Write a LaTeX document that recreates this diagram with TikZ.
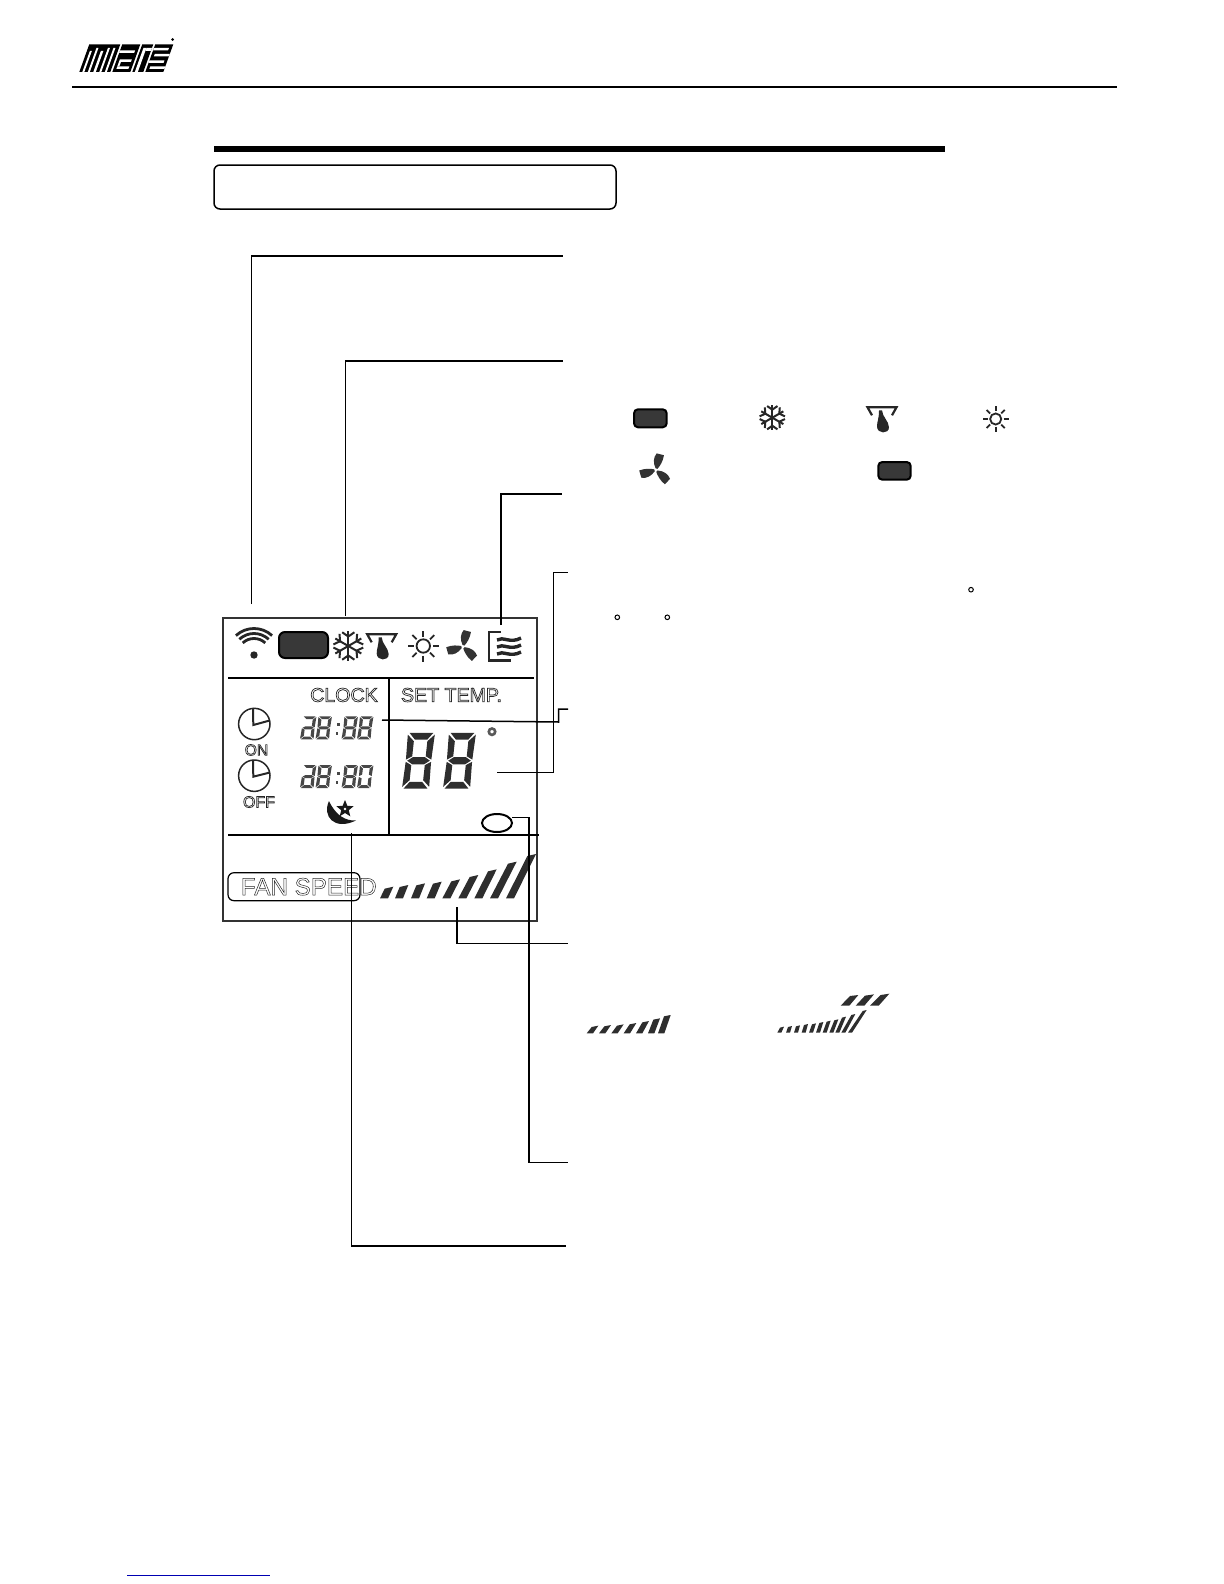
\documentclass[tikz,border=0pt]{standalone}
\usepackage{fontspec}
\usetikzlibrary{calc}
\setmainfont{Liberation Sans}
\newcommand\outl[2][0.35]{\special{pdf:code q 1 Tr #1 w}#2\special{pdf:code Q}}
\tikzset{
  leader/.style={draw=black,line width=.75pt},
  lcdline/.style={draw=black,line width=1pt},
  lcdtext/.style={text=black!85,inner sep=0pt,anchor=center},
  modebox/.style={draw=black,fill=black!78,line width=1pt,rounded corners=2pt},
  icon/.style={draw=black!85,line width=.75pt},
}
\newcommand\segdigit[6]{\begin{scope}[shift={(#1,#2)},x={(#3*.5pt,0pt)},y={(#5*.25pt,#4*.25pt)}]#6\end{scope}}
\newcommand\sA{\fill (.06,2)--(.94,2)--(.74,1.76)--(.28,1.76)--cycle;}
\newcommand\sD{\fill (.06,0)--(.94,0)--(.72,.24)--(.26,.24)--cycle;}
\newcommand\sG{\fill (.08,1)--(.28,1.13)--(.72,1.13)--(.92,1)--(.72,.87)--(.28,.87)--cycle;}
\newcommand\sF{\fill (0,1.94)--(.25,1.70)--(.25,1.16)--(.03,1.04)--cycle;}
\newcommand\sB{\fill (1,1.94)--(.75,1.70)--(.75,1.16)--(.97,1.04)--cycle;}
\newcommand\sE{\fill (.03,.96)--(.25,.84)--(.25,.30)--(0,.06)--cycle;}
\newcommand\sC{\fill (.97,.96)--(.75,.84)--(.75,.30)--(1,.06)--cycle;}
\newcommand\snowicon[3]{\begin{scope}[shift={(#1,#2)},scale=#3]
  \foreach \a in {90,30,-30,-90,-150,150}{
    \draw[icon,line width=1pt] (0,0)--(\a:15);
    \draw[icon,line width=1pt] (\a+24:15)--(\a:9.5)--(\a-24:15);
  }\end{scope}}
\newcommand\dropicon[3]{\begin{scope}[shift={(#1,#2)},scale=#3]
  \draw[icon,line width=1.1pt] (-10,8)--(-14.5,0)--(14.5,0)--(10,8);
  \fill[black!85] (-3,3) .. controls (-3,12) and (-5,14) .. (-5,19) .. controls (-5,27) and (7,27) .. (7,20) .. controls (7,14) and (0,9) .. (0,3)--cycle;
  \end{scope}}
\newcommand\sunicon[3]{\begin{scope}[shift={(#1,#2)},scale=#3]
  \draw[icon,line width=.9pt] (0,0) circle (6.7);
  \foreach \a in {0,45,...,315}{\draw[icon,line width=.9pt] (\a:9.5)--(\a:15.5);}
  \end{scope}}
\newcommand\fanicon[2]{\begin{scope}[shift={(#1,#2)}]
  \foreach \a in {72,192,312}{
    \fill[black!80,rotate=\a] (1.5,-1) .. controls (6,-5) and (11,-6.5) .. (16,-4.5) -- (16.5,3) .. controls (10,4) and (5,2.5) .. (1.5,1) -- cycle;
  }\end{scope}}
\begin{document}
\begin{tikzpicture}[x=.5pt,y=-.5pt]
\useasboundingbox (0,0) rectangle (1224,1584);
% header
\draw[line width=.6pt] (72,87)--(1117,87);
\fill[black] (214,145.5) rectangle (945,151.5);
\draw[line width=.75pt,rounded corners=3pt] (214,165) rectangle (616,209);
\draw[line width=.5pt,blue!70!black] (127,1575)--(270,1575);
% logo
\begin{scope}[shift={(79.3,72)},yscale=-1,xslant=-.36]
  \fill (0,0) rectangle (31,27.7);
  \fill (33,0) rectangle (51,27.7);
  \fill (53,0) rectangle (64,27.7);
  \fill (66,0) rectangle (84,27.7);
  % m
  \fill[white] (3,0) rectangle (5,21);
  \fill[white] (8.5,0) rectangle (10.5,24);
  \fill[white] (14,0) rectangle (16.5,21);
  \fill[white] (20,0) rectangle (22,24);
  \fill[white] (25.5,0) rectangle (27.5,24);
  % a
  \fill[white] (36,3) rectangle (48,5.5);
  \fill[white] (36,10) rectangle (48,12.5);
  \fill[white] (33,19) rectangle (48,21.5);
  \fill[white] (36,5.5) rectangle (38,10);
  % r
  \fill[white] (55.5,0) rectangle (58.5,24);
  \fill[white] (58.5,21) rectangle (64,24);
  % s
  \fill[white] (69,3) rectangle (84,5.5);
  \fill[white] (66,9) rectangle (81,11.5);
  \fill[white] (69,15.5) rectangle (84,18);
  \fill[white] (66,21.5) rectangle (81,24);
\end{scope}
\fill (172.7,39.5) circle (1.5);
% panel
\draw[draw=black!80,line width=1pt] (222.7,618) rectangle (537,920.7);
\draw[lcdline] (228,678)--(534,678);
\draw[lcdline] (389,678)--(389,834.7);
\draw[lcdline] (228,834.7)--(539,834.7);
% wifi
\fill[black!85] (254,655) circle (3.7);
\foreach \r in {26.5,21.5,16.5}{\draw[black!85,line width=1.4pt] ($(254,655)+(-133:\r)$) arc[start angle=-133,end angle=-47,radius=\r];}
\draw[modebox,rounded corners=3pt] (279,632) rectangle (328,658);
\snowicon{348.3}{646}{1}
\dropicon{381.7}{634.3}{1}
\sunicon{423.3}{646}{1}
\fanicon{463}{646.7}
% swing icon
\draw[black!85,line width=1.1pt] (501,632)--(489,632)--(489,660.5)--(511,660.5);
\foreach \y in {640,647,654}{\draw[black!85,line width=1.7pt] (497,\y) .. controls (503,\y-4) and (510,\y+4) .. (521,\y-2);}
% text
\node[lcdtext,font=\fontsize{9.8}{10}\selectfont] (clock) at (344,695) {\outl{CLOCK}};
\node[lcdtext,font=\fontsize{9.8}{10}\selectfont] (settemp) at (451.5,695) {\outl{SET TEMP.}};
\node[lcdtext,font=\fontsize{7.8}{8}\selectfont] (on) at (256.5,750) {\outl{ON}};
\node[lcdtext,font=\fontsize{8}{8}\selectfont] (off) at (259,802) {\outl{OFF}};
% clocks
\draw[icon] (254.3,724) circle (15.7);
\draw[icon,line width=1pt] (253,708)--(253.3,725)--(269,720.7);
\draw[icon] (254.3,775.7) circle (15.7);
\draw[icon,line width=1pt] (253,760)--(253.3,776.7)--(269,772.7);
% clock digits
\begin{scope}[black!72]
\foreach \yy in {739.3,788}{
  \segdigit{300}{\yy}{13.5}{23}{3}{\sA\sB\sG\sE\sC\sD}
  \segdigit{315.5}{\yy}{13.5}{23}{3}{\sA\sB\sF\sG\sE\sC\sD}
  \fill (337,\yy-16) rectangle ++(2.6,2.6);
  \fill (335.5,\yy-7) rectangle ++(2.6,2.6);
  \segdigit{341.5}{\yy}{13.5}{23}{3}{\sA\sB\sF\sG\sE\sC\sD}
}
\segdigit{357}{739.3}{13.5}{23}{3}{\sA\sB\sF\sG\sE\sC\sD}
\segdigit{357}{788}{13.5}{23}{3}{\sA\sB\sF\sE\sC\sD}
\end{scope}
% big digits
\begin{scope}[black!82]
\segdigit{402}{788.5}{27}{55.6}{6}{\sA\sB\sF\sG\sE\sC\sD}
\segdigit{443}{788.5}{27}{55.6}{6}{\sA\sB\sF\sG\sE\sC\sD}
\end{scope}
\draw[draw=black!65,line width=1.3pt] (492,731.7) circle (3.2);
% moon and star
\fill[black!90] (329,801) .. controls (322,816) and (334,831) .. (356,820.5) .. controls (346,821) and (336,816) .. cycle;
\fill[black!90] ($(345,809)+(-90:9)$)
  -- ($(345,809)+(-54:4)$) -- ($(345,809)+(-18:9)$) -- ($(345,809)+(18:4)$) -- ($(345,809)+(54:9)$)
  -- ($(345,809)+(90:4)$) -- ($(345,809)+(126:9)$) -- ($(345,809)+(162:4)$) -- ($(345,809)+(198:9)$)
  -- ($(345,809)+(234:4)$) -- cycle;
\fill[white] (345,809) circle (1.3);
% ellipse
\draw[draw=black,line width=1pt] (497,823) ellipse[x radius=15,y radius=9];
% fan speed
\draw[draw=black,line width=.6pt,rounded corners=3pt] (228,872.7) rectangle (360,900.7);
\node[lcdtext,font=\fontsize{12.1}{12}\selectfont,anchor=west] (fanspeed) at (240.5,886.7) {\outl[0.25]{FAN SPEED}};
% fan bars
\begin{scope}[shift={(225,830)},x=.16667pt,y=-.16667pt,black!82]
\foreach \b/\t/\y in {465/505/170,510/550/165,558/600/160,605/650/155,652/705/148,700/760/135,748/815/118,795/875/95,843/933/72}{
  \fill (\b,205)--(\b+24,205)--(\t,\y)--(\t-26,\y+6)--cycle;
}
\end{scope}
% right icons
\draw[modebox] (634,409.3) rectangle (666.7,427.3);
\snowicon{772.3}{417.7}{.85}
\dropicon{882}{407.3}{1}
\sunicon{995.7}{419}{.83}
\fanicon{656}{470}
\draw[modebox] (878.3,462) rectangle (910.7,479.7);
\foreach \p in {(617.3,617.3),(667.3,617.3),(971,589.7)}{\draw[line width=.5pt] \p circle (2.3);}
% legend bars
\begin{scope}[shift={(580,1005)},x=.16667pt,y=-.16667pt,black!82]
\foreach \b/\t/\y in {20/55/62,57/93/60,94/131/58,131/169/54,168/207/48,204/240/40,234/272/30}{
  \fill (\b,85)--(\b+19,85)--(\t,\y)--(\t-20,\y+4)--cycle;
}
\end{scope}
\begin{scope}[shift={(770,990)},x=.16667pt,y=-.16667pt,black!82]
\foreach \b/\t/\y in {22/42/110,48/66/108,72/90/106,95/114/102,117/138/100,138/160/96,158/182/92,178/205/88,196/228/80,214/256/72,234/290/60}{
  \fill (\b,128)--(\b+12,128)--(\t,\y)--(\t-12,\y+3)--cycle;
}
\fill (212,47)--(238,47)--(265,15)--(240,18)--cycle;
\fill (257,47)--(283,47)--(312,13)--(285,17)--cycle;
\fill (300,47)--(326,47)--(358,11)--(332,15)--cycle;
\end{scope}
% connector ends
\coordinate (wifiT) at (251.5,604);
\coordinate (modeT) at (345.5,616);
\coordinate (swingT) at (501,625);
\coordinate (tempT) at (497,772.7);
\coordinate (clockT) at (382,720);
\coordinate (ovalT) at (512.3,817.7);
\coordinate (sleepT) at (351.5,833);
\coordinate (speedT) at (457,907);
\coordinate (e1) at (563,256);
\coordinate (e2) at (563,361);
\coordinate (e3) at (561.7,493.5);
\coordinate (e4) at (568,572.5);
\coordinate (e5) at (568,709);
\coordinate (e6) at (568,1162.5);
\coordinate (e7) at (566,1246);
\coordinate (e8) at (568,943.5);
\draw[leader] (wifiT)--(wifiT|-e1)--(e1);
\draw[leader] (modeT)--(modeT|-e2)--(e2);
\draw[leader,line width=1pt] (swingT)--(swingT|-e3)--(e3);
\draw[leader] (tempT)--(553.5,772.7)--(553.5,572.5)--(e4);
\draw[leader] (clockT)--(558.5,722)--(558.5,709)--(e5);
\draw[leader] (ovalT)--(528.8,817.7)--(528.8,1162.5)--(e6);
\draw[leader] (sleepT)--(sleepT|-e7)--(e7);
\draw[leader] (speedT)--(speedT|-e8)--(e8);
\end{tikzpicture}
\end{document}
